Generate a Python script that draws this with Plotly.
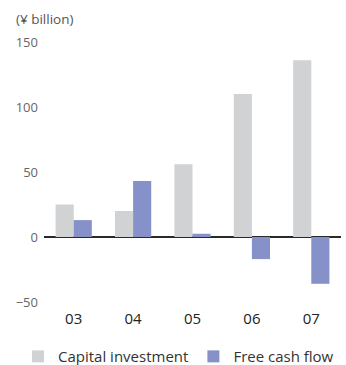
import plotly.graph_objects as go

# Fiscal years and values (¥ billion)
years = ["03", "04", "05", "06", "07"]
capital_investment = [25, 20, 56, 110, 136]
free_cash_flow = [13, 43, 2.5, -17, -36]

y_ticks = [-50, 0, 50, 100, 150]

fig = go.Figure()
fig.add_trace(go.Bar(
    x=years, y=capital_investment, name="Capital investment",
    marker=dict(color="#d1d2d4", line=dict(width=0)),
))
fig.add_trace(go.Bar(
    x=years, y=free_cash_flow, name="Free cash flow",
    marker=dict(color="#8591c8", line=dict(width=0)),
))

fig.update_layout(
    width=346, height=365,
    margin=dict(l=44, r=5, t=42, b=63, autoexpand=False),
    paper_bgcolor="white", plot_bgcolor="white",
    barmode="group", bargap=0.39, bargroupgap=0,
    font=dict(family="Open Sans, Noto Sans, sans-serif", color="#555555"),
    showlegend=True,
    legend=dict(
        orientation="h", x=-0.0875, y=-0.21, xanchor="left", yanchor="middle",
        font=dict(size=15, color="#333333"),
        itemwidth=30, tracegroupgap=0,
    ),
    xaxis=dict(
        type="category", range=[-0.5, 4.5],
        showgrid=False, showline=False, zeroline=False,
        ticks="", tickfont=dict(size=15, color="#222222"),
        ticklabelstandoff=6,
    ),
    yaxis=dict(
        range=[-50, 150], tickvals=y_ticks,
        showgrid=False, showline=False,
        zeroline=True, zerolinecolor="#2a2a2a", zerolinewidth=2,
        ticks="", tickfont=dict(size=13, color="#666666"),
        ticklabelstandoff=5,
    ),
    annotations=[dict(
        text="(¥ billion)", xref="paper", yref="paper",
        x=-0.1, y=1.0, xanchor="left", yanchor="bottom", yshift=12,
        showarrow=False, font=dict(size=13.5, color="#555555"),
    )],
)

fig.write_html("out.html")
